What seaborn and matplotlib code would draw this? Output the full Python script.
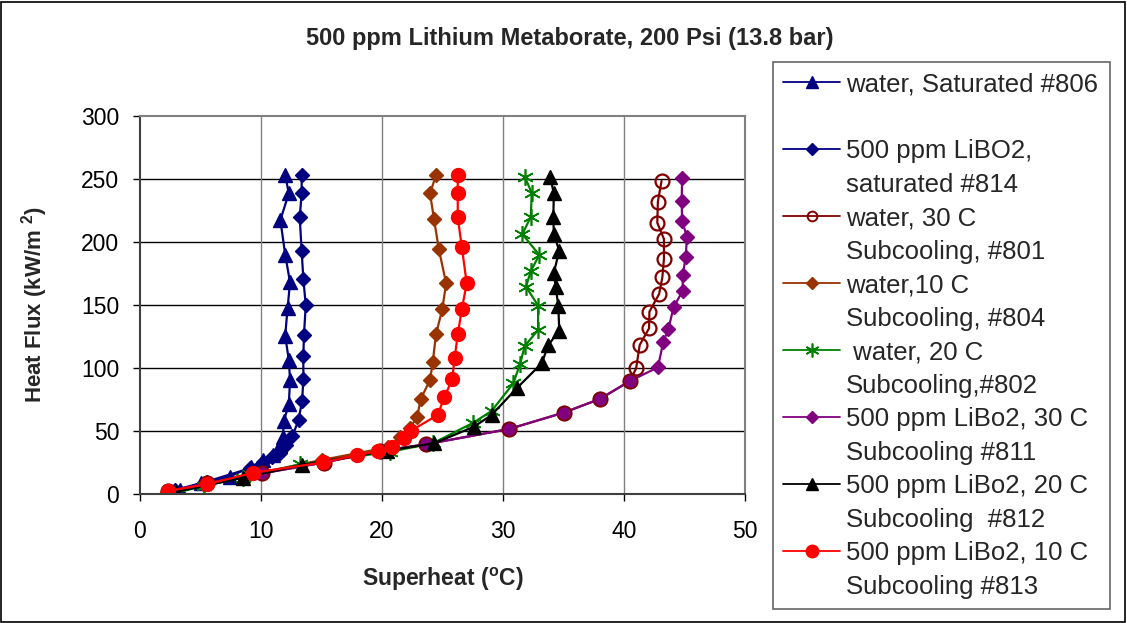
import matplotlib
matplotlib.use("Agg")
import matplotlib.pyplot as plt
import seaborn as sns
from matplotlib.lines import Line2D
from matplotlib.patches import Rectangle

# ---------------- data (superheat degC, heat flux kW/m2) ----------------
x806 = [3.0, 3.3, 5.0, 7.4, 9.2, 10.2, 11.0, 11.6, 11.8, 11.9, 12.3, 12.4, 12.3, 12.0, 12.2, 12.4, 12.0, 11.6, 12.3, 12.0]
y806 = [1.0, 3.2, 8.5, 13.7, 21.7, 27.0, 31.0, 38.9, 45.5, 58.2, 71.4, 90.5, 106.3, 125.6, 147.9, 168.0, 190.0, 217.5, 238.6, 253.0]

x814 = [2.9, 5.5, 9.1, 10.2, 10.9, 11.6, 12.1, 12.6, 13.1, 13.4, 13.5, 13.5, 13.55, 13.7, 13.5, 13.36, 13.2, 13.36, 13.36]
y814 = [3.2, 9.8, 20.4, 25.6, 29.6, 32.3, 38.9, 46.0, 58.7, 74.0, 91.3, 109.5, 126.4, 149.8, 170.6, 192.8, 219.6, 238.6, 253.0]

x801 = [2.3, 5.5, 10.1, 15.2, 19.8, 23.6, 30.5, 35.0, 38.0, 40.5, 41.0, 41.3, 42.07, 42.1, 42.9, 43.17, 43.3, 43.3, 42.75, 42.8, 43.1]
y801 = [2.0, 8.5, 16.4, 25.0, 34.0, 39.4, 51.6, 64.5, 75.4, 89.7, 99.7, 118.3, 131.5, 144.7, 158.7, 172.0, 186.5, 202.4, 215.3, 232.0, 248.4]

x804 = [2.2, 5.3, 9.0, 15.0, 20.5, 21.5, 22.3, 22.9, 23.2, 23.97, 24.2, 24.46, 24.98, 25.3, 24.7, 24.3, 23.97, 24.46]
y804 = [1.5, 7.0, 15.0, 27.0, 37.0, 45.0, 52.5, 60.9, 75.4, 90.5, 105.0, 126.7, 146.6, 167.2, 194.2, 218.0, 238.6, 253.0]

x802 = [3.0, 5.3, 8.5, 13.2, 20.7, 24.2, 27.55, 29.06, 30.85, 31.4, 31.8, 32.9, 32.9, 31.9, 32.3, 33.0, 31.6, 32.3, 32.37, 31.8]
y802 = [1.0, 6.5, 13.0, 23.5, 33.6, 40.2, 56.6, 65.9, 87.8, 102.9, 117.5, 130.2, 149.5, 164.5, 177.0, 189.7, 206.3, 220.0, 239.0, 251.8]

x811 = [2.3, 5.5, 10.1, 15.2, 19.8, 23.6, 30.5, 35.0, 38.0, 40.5, 42.8, 43.25, 43.66, 44.1, 44.85, 44.85, 45.1, 45.2, 44.8, 44.77, 44.8]
y811 = [2.0, 8.5, 16.4, 25.0, 34.0, 39.4, 51.6, 64.5, 75.4, 89.7, 100.5, 120.9, 130.7, 148.2, 161.3, 173.8, 187.8, 204.2, 216.7, 232.5, 250.5]

x812 = [3.0, 8.5, 13.36, 20.4, 24.3, 27.6, 29.06, 31.13, 33.2, 33.75, 34.65, 34.57, 34.35, 34.2, 34.65, 34.2, 34.16, 34.2, 33.9]
y812 = [1.8, 12.9, 23.0, 34.4, 40.2, 53.4, 62.7, 83.9, 103.7, 118.3, 129.6, 149.5, 164.5, 175.6, 193.0, 206.3, 220.0, 238.6, 251.8]

x813 = [2.3, 5.5, 9.37, 15.15, 17.96, 19.7, 20.8, 21.8, 22.4, 24.6, 25.15, 25.8, 26.0, 26.26, 26.6, 27.0, 26.6, 26.26, 26.26, 26.26]
y813 = [2.4, 7.7, 16.9, 25.1, 31.0, 34.1, 37.6, 44.2, 50.2, 62.7, 76.7, 91.0, 107.7, 126.7, 146.8, 167.2, 195.8, 219.6, 238.6, 253.0]

legend_lines = [
    ["water, Saturated #806", " "],
    ["500 ppm LiBO2,", "saturated #814"],
    ["water, 30 C", "Subcooling, #801"],
    ["water,10 C", "Subcooling, #804"],
    [" water, 20 C", "Subcooling,#802"],
    ["500 ppm LiBo2, 30 C", "Subcooling #811"],
    ["500 ppm LiBo2, 20 C", "Subcooling  #812"],
    ["500 ppm LiBo2, 10 C", "Subcooling #813"],
]

x_ticks = [0, 10, 20, 30, 40, 50]
y_ticks = [0, 50, 100, 150, 200, 250, 300]

title = "500 ppm Lithium Metaborate, 200 Psi (13.8 bar)"
xlabel = "Superheat ($^{o}$C)"
ylabel = "Heat Flux (kW/m $^{2}$)"

# ---------------- style ----------------
sns.set_style("white")
plt.rcParams['font.family'] = ['Liberation Sans', 'DejaVu Sans']
plt.rcParams['mathtext.default'] = 'regular'

NAVY = "#000080"
MAROON = "#800000"
BROWN = "#993300"
GREEN = "#008000"
PURPLE = "#800080"
BLACK = "#000000"
RED = "#FF0000"

fig = plt.figure(figsize=(11.27, 6.23), dpi=100)
ax = fig.add_axes([140 / 1127, 1 - 494 / 623, 605 / 1127, 378 / 623])

LW = 1.6


def draw(x, y, color, marker, ms, mfc=None, mec=None, mew=1.0, markevery=None, ls='-'):
    kw = dict(x=x, y=y, ax=ax, sort=False, estimator=None, color=color,
              marker=marker, markersize=ms,
              markerfacecolor=(color if mfc is None else mfc),
              markeredgecolor=(color if mec is None else mec),
              markeredgewidth=mew, linewidth=LW, linestyle=ls)
    if markevery is not None:
        kw['markevery'] = markevery
    sns.lineplot(**kw)


draw(x806, y806, NAVY, '^', 10)
draw(x814, y814, NAVY, 'D', 7)
draw(x801, y801, MAROON, 'o', 10, mfc='none', mew=1.6)
draw(x804, y804, BROWN, 'D', 7)
draw(x802, y802, GREEN, (6, 2, 0), 12, mew=1.2)
draw(x811, y811, PURPLE, 'D', 7, markevery=list(range(10, len(x811))))
sns.lineplot(x=x811[:10], y=y811[:10], ax=ax, sort=False, estimator=None,
             color=PURPLE, marker='o', markersize=10, linestyle='none',
             markerfacecolor=PURPLE, markeredgecolor=MAROON, markeredgewidth=1.0)
draw(x812, y812, BLACK, '^', 10)
draw(x813, y813, RED, 'o', 10)

ax.set_xlim(0, 50)
ax.set_ylim(0, 300)
ax.set_xticks(x_ticks)
ax.set_yticks(y_ticks)
ax.tick_params(axis='both', labelsize=16.5, direction='out', length=5, width=1, colors='black')
ax.tick_params(axis='x', pad=14)
ax.tick_params(axis='y', pad=10)
ax.tick_params(left=True, bottom=True)

for yv in y_ticks[1:-1]:
    ax.axhline(yv, color='black', lw=1.0, zorder=0.5)
for xv in x_ticks[1:-1]:
    ax.axvline(xv, color='#808080', lw=1.0, zorder=0.5)

ax.spines['left'].set_color('#404040')
ax.spines['bottom'].set_color('#404040')
ax.spines['top'].set_color('#808080')
ax.spines['right'].set_color('#808080')
for s in ax.spines.values():
    s.set_linewidth(1.5)
    s.set_visible(True)

ax.set_xlabel(xlabel, fontsize=16.5, fontweight='bold', labelpad=16)
ax.set_ylabel(ylabel, fontsize=16, fontweight='bold', labelpad=22)

fig.text(570 / 1127, 1 - 38 / 623, title, ha='center', va='center', fontsize=17, fontweight='bold')

# ---------------- legend ----------------
styles = [
    dict(color=NAVY, marker='^', markersize=8),
    dict(color=NAVY, marker='D', markersize=6),
    dict(color=MAROON, marker='o', markersize=7, markerfacecolor='none', markeredgewidth=1.4),
    dict(color=BROWN, marker='D', markersize=6),
    dict(color=GREEN, marker=(6, 2, 0), markersize=10, markeredgewidth=1.2),
    dict(color=PURPLE, marker='D', markersize=6),
    dict(color=BLACK, marker='^', markersize=8),
    dict(color=RED, marker='o', markersize=9),
]
handles, labels = [], []
for st, lines in zip(styles, legend_lines):
    handles.append(Line2D([], [], linewidth=1.3, **st))
    labels.append(lines[0])
    handles.append(Line2D([], [], linestyle='none', marker=None))
    labels.append(lines[1])

leg = fig.legend(handles, labels, loc='upper left',
                 bbox_to_anchor=(773 / 1127, 1 - 612 / 623, 337 / 1127, 550 / 623),
                 bbox_transform=fig.transFigure, mode='expand', borderaxespad=0,
                 fontsize=18.5, frameon=True, fancybox=False, shadow=False,
                 handlelength=2.2, handletextpad=0.25, labelspacing=0.37,
                 borderpad=0.4)
leg.get_frame().set_edgecolor('#404040')
leg.get_frame().set_linewidth(1.2)

fig.patches.append(Rectangle((0.001, 0.0015), 0.997, 0.996, transform=fig.transFigure,
                             fill=False, edgecolor='black', linewidth=1.2))

fig.savefig("out.png", dpi=100)
